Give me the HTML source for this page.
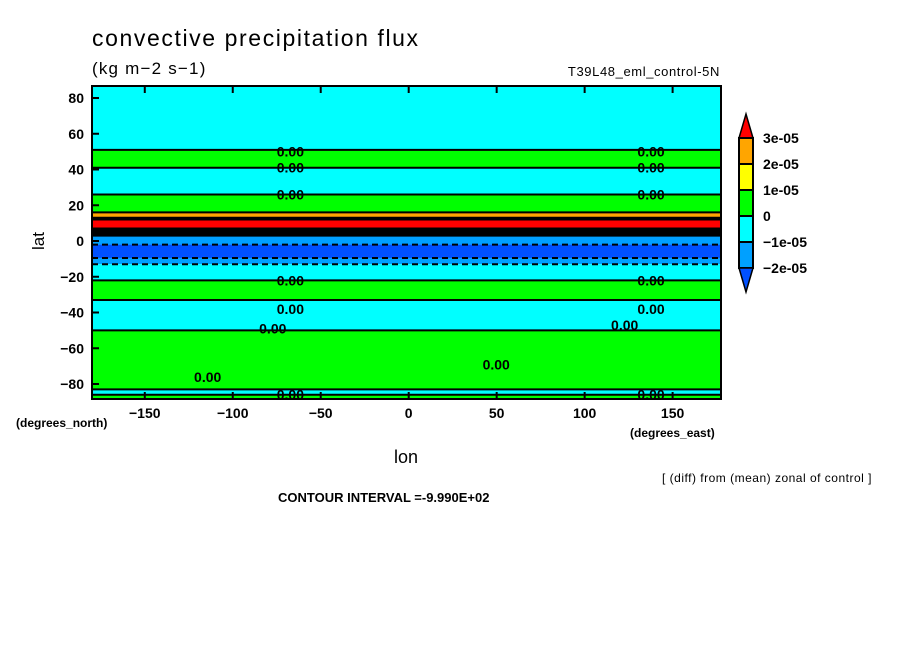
<!DOCTYPE html>
<html><head><meta charset="utf-8"><style>
body{margin:0;background:#fff;width:904px;height:654px;overflow:hidden}
svg text{font-family:"Liberation Sans",sans-serif;fill:#000}
</style></head><body>
<svg id="c" width="904" height="654">
<text x="92" y="46" font-size="23" letter-spacing="1.6">convective precipitation flux</text>
<text x="92" y="74" font-size="17" letter-spacing="1.2">(kg m−2 s−1)</text>
<text x="720" y="76" font-size="13" letter-spacing="0.6" text-anchor="end">T39L48_eml_control-5N</text>
<g id="plot"></g>
<g id="axes"></g>
<g id="cbar"></g>
<text x="38" y="247" font-size="17" transform="rotate(-90 38 241)" text-anchor="middle">lat</text>
<text x="406" y="463" font-size="18" text-anchor="middle">lon</text>
<text x="16" y="427" font-size="12" font-weight="bold">(degrees_north)</text>
<text x="630" y="437" font-size="12" font-weight="bold">(degrees_east)</text>
<text x="872" y="482" font-size="12" letter-spacing="0.5" text-anchor="end">[ (diff) from (mean) zonal of control ]</text>
<text x="278" y="502" font-size="13" font-weight="bold">CONTOUR INTERVAL =-9.990E+02</text>
</svg>
<script>
const latTop=[87,51,41,26,16,13,12,7,3,-2,-9.5,-13,-22,-33,-50,-83,-86];
const latBot=[51,41,26,16,13,12,7,3,-2,-9.5,-13,-22,-33,-50,-83,-86,-88];
const bandLevel=[4,3,4,3,1,2,0,-1,5,6,5,4,3,4,3,4,3];
const levelColors=["#ff0000","#ffa500","#ffff00","#00ff00","#00ffff","#00a0ff","#0050ff"];
const colorLabels=["3e-05","2e-05","1e-05","0","−1e-05","−2e-05"];
const latTicks=[-80,-60,-40,-20,0,20,40,60,80];
const lonTicks=[-150,-100,-50,0,50,100,150];
const labelLats=[50,41,26,-22,-38,-49,-76,-86,50,41,26,-22,-38,-47,-69,-86];
const labelLons=[-75,-75,-75,-75,-75,-85,-122,-75,130,130,130,130,130,115,42,130];
const x0=92,x1=721,y0=86,y1=399;
const X=lon=>x0+(lon+180)*(x1-x0)/357.5;
const Y=lat=>241-lat*1.7875;
const NS="http://www.w3.org/2000/svg";
function mk(t,a,p){const e=document.createElementNS(NS,t);for(const k in a)e.setAttribute(k,a[k]);p.appendChild(e);return e;}
const P=document.getElementById('plot'),A=document.getElementById('axes'),C=document.getElementById('cbar');
latTop.forEach((t,i)=>{
 const yt=Math.max(y0,Y(t)),yb=Math.min(y1,Y(latBot[i]));
 const col=bandLevel[i]<0?"#000":levelColors[bandLevel[i]];
 const r=mk('rect',{x:x0,y:yt,width:x1-x0,height:yb-yt,fill:col},P);
 
 
 if(i>0){const l=mk('line',{x1:x0,x2:x1,y1:yt,y2:yt,stroke:'#000','stroke-width':2,'stroke-dasharray':(t<0&&t>-14)?'6 4':'none'},P);
 
 }
});
labelLats.forEach((la,i)=>{
 const t=mk('text',{x:X(labelLons[i]),y:Y(la)+5,'font-size':14,'font-weight':'bold'},P);t.textContent='0.00';
 
 
});
mk('rect',{x:x0,y:y0,width:x1-x0,height:y1-y0,fill:'none',stroke:'#000','stroke-width':2},A);
latTicks.forEach(v=>{mk('line',{x1:x0,x2:x0+7,y1:Y(v),y2:Y(v),stroke:'#000','stroke-width':2},A);
 const t=mk('text',{x:x0-8,y:Y(v)+5,'font-size':14,'font-weight':'bold','text-anchor':'end'},A);t.textContent=v<0?'−'+(-v):v;
 
 });
lonTicks.forEach(v=>{mk('line',{x1:X(v),x2:X(v),y1:y1,y2:y1-7,stroke:'#000','stroke-width':2},A);
 mk('line',{x1:X(v),x2:X(v),y1:y0,y2:y0+7,stroke:'#000','stroke-width':2},A);
 const t=mk('text',{x:X(v),y:y1+19,'font-size':14,'font-weight':'bold','text-anchor':'middle'},A);t.textContent=v<0?'−'+(-v):v;
 
 });
const cx=739,cw=14,ct=138,ch=26;
mk('polygon',{points:`${cx},${ct} ${cx+cw},${ct} ${cx+cw/2},${ct-24}`,fill:levelColors[0],stroke:'#000','stroke-width':1.5},C);
for(let i=1;i<6;i++){const r=mk('rect',{x:cx,y:ct+(i-1)*ch,width:cw,height:ch,fill:levelColors[i],stroke:'#000','stroke-width':2},C);
 
 }
const cb=ct+5*ch;
mk('polygon',{points:`${cx},${cb} ${cx+cw},${cb} ${cx+cw/2},${cb+24}`,fill:levelColors[6],stroke:'#000','stroke-width':1.5},C);
colorLabels.forEach((s,i)=>{const t=mk('text',{x:763,y:ct+i*ch+5,'font-size':14,'font-weight':'bold'},C);t.textContent=s;
 
 });
</script>
</body></html>
